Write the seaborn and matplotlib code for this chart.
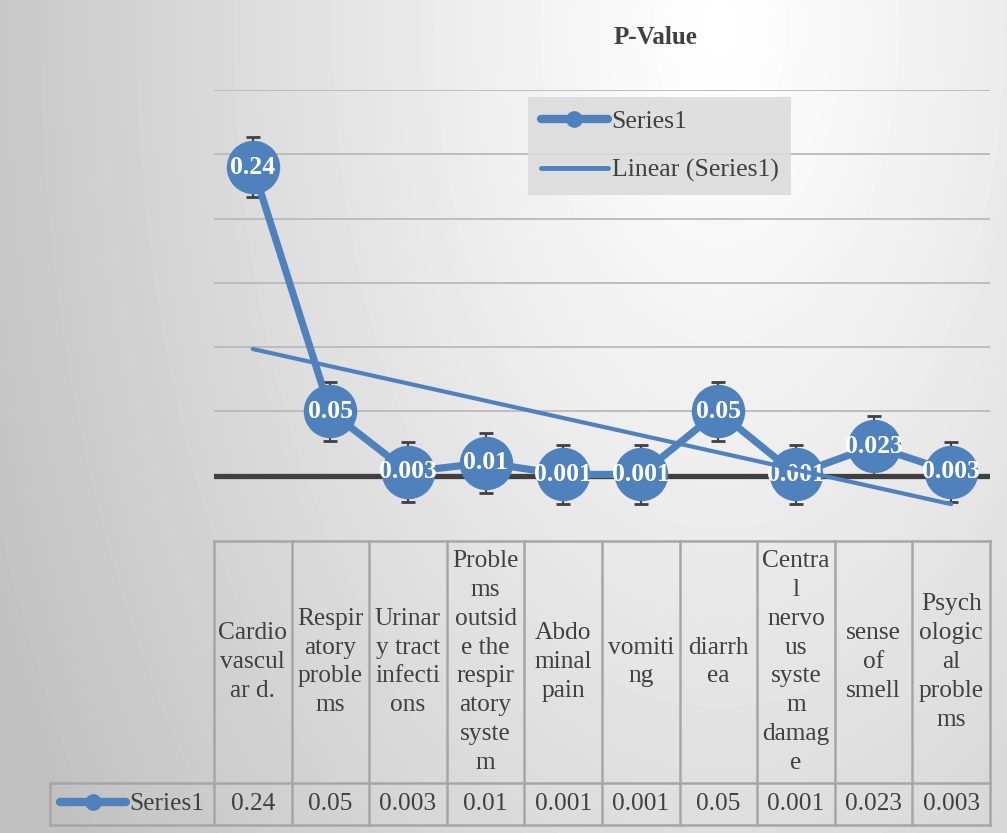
import numpy as np
import matplotlib
matplotlib.use("Agg")
import matplotlib.pyplot as plt
import seaborn as sns
import pandas as pd
from matplotlib.lines import Line2D

# ---------------- data ----------------
title = "P-Value"
series_name = "Series1"
trend_name = "Linear (Series1)"
categories = [
    "Cardio\nvascul\nar d.",
    "Respir\natory\nproble\nms",
    "Urinar\ny tract\ninfecti\nons",
    "Proble\nms\noutsid\ne the\nrespir\natory\nsyste\nm",
    "Abdo\nminal\npain",
    "vomiti\nng",
    "diarrh\nea",
    "Centra\nl\nnervo\nus\nsyste\nm\ndamag\ne",
    "sense\nof\nsmell",
    "Psych\nologic\nal\nproble\nms",
]
values = [0.24, 0.05, 0.003, 0.01, 0.001, 0.001, 0.05, 0.001, 0.023, 0.003]

# ---------------- style ----------------
sns.set_theme(style="white")
FONT = ["Liberation Serif", "DejaVu Serif"]
plt.rcParams["font.family"] = FONT
BLUE = "#4F81BD"
TXT = "#404040"
GRID = "#bdbdbd"
BORDER = "#a6a6a6"

W, H = 1007, 833
fig = plt.figure(figsize=(W / 100, H / 100), dpi=100)

# background gradient
bg = fig.add_axes([0, 0, 1, 1], zorder=-10)
yy, xx = np.mgrid[0:H, 0:W]
r = np.sqrt(((xx - 720) / 800.0) ** 2 + ((yy - 30) / 1400.0) ** 2)
shade = 255 - 62 * np.clip(r, 0, 1) ** 1.1
bg.imshow(shade, cmap="gray", vmin=0, vmax=255, aspect="auto",
          extent=(0, 1, 0, 1), interpolation="bilinear")
bg.set_axis_off()

# main plot axes
L, R, T, B = 214, 990, 90, 540
ax = fig.add_axes([L / W, 1 - B / H, (R - L) / W, (B - T) / H])
ax.patch.set_alpha(0)

x = np.arange(1, len(values) + 1)
df = pd.DataFrame({"x": x, "p": values})

for g in np.arange(0.05, 0.301, 0.05):
    ax.axhline(g, color=GRID, lw=1.4, zorder=1)
ax.axhline(0, color="#404040", lw=3.8, zorder=2)

se = np.std(values, ddof=1) / np.sqrt(len(values))
ax.errorbar(x, values, yerr=se, fmt="none", ecolor="#404040",
            elinewidth=1.5, capsize=5, capthick=2, zorder=3)

sns.lineplot(data=df, x="x", y="p", ax=ax, color=BLUE, lw=5.2, marker="o",
             markersize=38.5, markeredgewidth=0, zorder=4, legend=False)

for xi, v in zip(x, values):
    ax.text(xi, v, f"{v:g}", ha="center", va="center", color="white",
            fontsize=18.5, fontweight="bold", zorder=5)

sns.regplot(data=df, x="x", y="p", ax=ax, scatter=False, ci=None,
            truncate=True, line_kws=dict(color=BLUE, lw=3.0, zorder=6))

ax.set_xlim(0.5, len(values) + 0.5)
ax.set_ylim(-0.05, 0.3)
ax.set_xticks([])
ax.set_yticks([])
ax.set_xlabel("")
ax.set_ylabel("")
for s in ax.spines.values():
    s.set_visible(False)

# title
fig.text(655 / W, 1 - 37 / H, title, ha="center", va="center",
         fontsize=18, fontweight="bold", color=TXT)

# legend
h_series = Line2D([], [], color=BLUE, lw=6, marker="o", ms=11,
                  solid_capstyle="round")
h_trend = Line2D([], [], color=BLUE, lw=3.5, solid_capstyle="round")
leg = fig.legend([h_series, h_trend], [series_name, trend_name],
                 loc="upper left", bbox_to_anchor=(528 / W, 1 - 97 / H),
                 bbox_transform=fig.transFigure, fontsize=18.5,
                 frameon=True, fancybox=False, handlelength=2.6,
                 handletextpad=0.15, labelspacing=1.0, borderpad=0.5,
                 borderaxespad=0)
leg.get_frame().set_facecolor("#dcdcdc")
leg.get_frame().set_edgecolor("none")
leg.get_frame().set_alpha(0.9)
for t in leg.get_texts():
    t.set_color(TXT)

# data table
TL, TT, TB = 50, 541, 825
tax = fig.add_axes([TL / W, 1 - TB / H, (R - TL) / W, (TB - TT) / H])
tax.patch.set_alpha(0)
ppu = (R - L) / len(values)
left = 0.5 - (L - TL) / ppu
tax.set_xlim(left, len(values) + 0.5)
tax.set_ylim(0, 1)
tax.set_axis_off()
split = 42 / (TB - TT)
lk = dict(color=BORDER, lw=1.8, clip_on=False, solid_capstyle="projecting")
n = len(values)
tax.plot([0.5, n + 0.5], [1, 1], **lk)
tax.plot([left, n + 0.5], [split, split], **lk)
tax.plot([left, n + 0.5], [0, 0], **lk)
for i in range(n + 1):
    tax.plot([0.5 + i, 0.5 + i], [0, 1], **lk)
tax.plot([left, left], [0, split], **lk)

for xi, cat, v in zip(x, categories, values):
    tax.text(xi, (1 + split) / 2, cat, ha="center", va="center",
             fontsize=18.3, color=TXT, linespacing=1.41)
    tax.text(xi, split / 2, f"{v:g}", ha="center", va="center",
             fontsize=18.3, color=TXT)

tleg = tax.legend([h_series], [series_name], loc="center",
                  bbox_to_anchor=((left + 0.5) / 2, split / 2),
                  bbox_transform=tax.transData, fontsize=18.3, frameon=False,
                  handlelength=2.6, handletextpad=0.15, borderpad=0,
                  borderaxespad=0)
for t in tleg.get_texts():
    t.set_color(TXT)

fig.savefig("out.png", dpi=100)
